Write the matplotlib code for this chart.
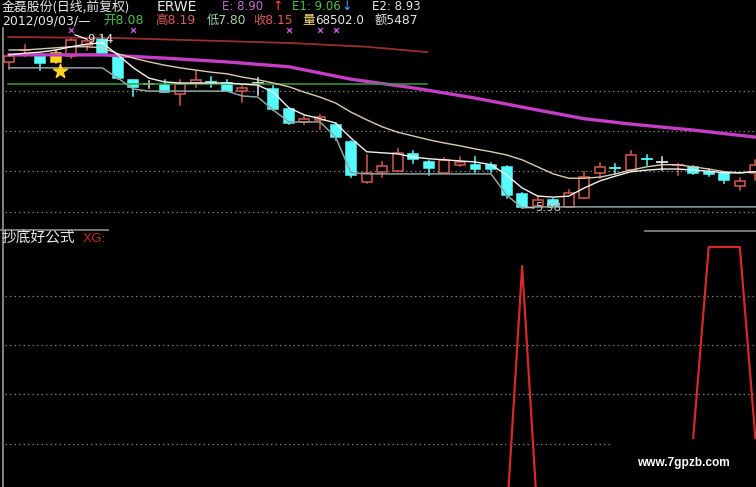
import numpy as np
import matplotlib
matplotlib.use("Agg")
import matplotlib.pyplot as plt
from matplotlib.patches import Rectangle
from matplotlib.lines import Line2D

plt.rcParams['font.family'] = ['Noto Sans CJK SC', 'DejaVu Sans']

W, H = 756, 487

# ---------------- data ----------------
opens  = [8.68, 8.89, 8.79, 8.68, 8.79, 8.99, 9.12, 8.77, 8.35, 8.27,
          8.25, 8.09, 8.29, 8.31, 8.29, 8.14, 8.29, 8.18, 7.81, 7.57,
          7.61, 7.51, 7.20, 6.46, 6.65, 6.66, 6.98, 6.83, 6.63, 6.78,
          6.78, 6.78, 6.74, 6.24, 6.02, 6.13, 6.00, 6.17, 6.63, 6.72,
          6.68, 6.89, 6.83, 6.77, 6.74, 6.65, 6.63, 6.39, 6.63]
highs  = [8.83, 8.99, 8.83, 8.90, 9.12, 9.12, 9.14, 8.79, 8.35, 8.33,
          8.35, 8.35, 8.51, 8.40, 8.35, 8.23, 8.38, 8.23, 7.83, 7.70,
          7.70, 7.55, 7.22, 6.96, 6.83, 7.07, 7.03, 6.85, 6.90, 6.92,
          6.92, 6.81, 6.76, 6.26, 6.20, 6.15, 6.31, 6.65, 6.81, 6.79,
          7.03, 6.96, 6.92, 6.79, 6.76, 6.70, 6.65, 6.53, 6.87]
lows   = [8.55, 8.79, 8.53, 8.66, 8.75, 8.90, 8.81, 8.36, 8.05, 8.20,
          8.12, 7.88, 8.22, 8.22, 8.14, 7.94, 8.07, 7.79, 7.53, 7.53,
          7.44, 7.24, 6.55, 6.44, 6.55, 6.66, 6.81, 6.59, 6.63, 6.76,
          6.65, 6.65, 6.17, 5.98, 6.00, 6.02, 5.99, 6.17, 6.53, 6.61,
          6.68, 6.78, 6.68, 6.59, 6.61, 6.57, 6.44, 6.31, 6.50]
closes = [8.79, 8.90, 8.66, 8.84, 9.08, 9.07, 8.84, 8.38, 8.22, 8.27,
          8.12, 8.27, 8.35, 8.30, 8.14, 8.20, 8.29, 7.81, 7.55, 7.63,
          7.66, 7.29, 6.59, 6.63, 6.76, 7.00, 6.89, 6.72, 6.87, 6.83,
          6.70, 6.70, 6.22, 6.00, 6.13, 6.04, 6.26, 6.55, 6.74, 6.71,
          6.96, 6.88, 6.83, 6.78, 6.63, 6.61, 6.50, 6.48, 6.78]

ma_fast = [8.81, 8.84, 8.86, 8.90, 8.96, 9.01, 9.03, 8.81, 8.57, 8.38,
           8.31, 8.29, 8.29, 8.29, 8.29, 8.27, 8.25, 8.12, 7.83, 7.70,
           7.63, 7.55, 7.27, 7.02, 7.00, 6.98, 6.92, 6.89, 6.87, 6.85,
           6.83, 6.78, 6.59, 6.35, 6.20, 6.18, 6.20, 6.35, 6.48, 6.57,
           6.65, 6.68, 6.70, 6.70, 6.68, 6.66, 6.63, 6.63, 6.65]
ma_slow = [8.90, 8.90, 8.92, 8.94, 8.96, 8.96, 8.94, 8.83, 8.75, 8.68,
           8.62, 8.57, 8.53, 8.49, 8.46, 8.40, 8.35, 8.29, 8.22, 8.12,
           8.03, 7.92, 7.75, 7.61, 7.48, 7.38, 7.31, 7.24, 7.18, 7.13,
           7.07, 7.02, 6.96, 6.87, 6.74, 6.61, 6.53, 6.53, 6.55, 6.61,
           6.68, 6.74, 6.78, 6.78, 6.74, 6.70, 6.65, 6.63, 6.65]
low_step = [8.57, 8.57, 8.57, 8.57, 8.57, 8.57, 8.57, 8.38, 8.18, 8.14,
            8.14, 8.14, 8.14, 8.14, 8.14, 8.05, 8.03, 7.79, 7.57, 7.57,
            7.57, 7.29, 6.63, 6.61, 6.61, 6.61, 6.61, 6.61, 6.61, 6.61,
            6.61, 6.61, 6.22, 5.98, 6.00, 6.00, 6.00, 6.00, 6.00, 6.00,
            6.00, 6.00, 6.00, 6.00, 6.00, 6.00, 6.00, 6.00, 6.00]

e_idx = [0, 3, 6, 10, 14, 18, 22, 26, 30, 34, 37, 40, 44, 48]
e_val = [8.81, 8.81, 8.81, 8.75, 8.68, 8.59, 8.36, 8.20, 8.01, 7.79,
         7.63, 7.53, 7.42, 7.29]
e1_idx = [-0.05, 7, 18, 23, 26.9]
e1_val = [9.14, 9.12, 9.03, 8.96, 8.86]
e2_span = [-0.05, 26.9]
e2_level = 8.27

highlight_days = [3]
star_pos = (3.3, 8.51)
mark_days = [4, 8, 18, 20, 21]
mark_level = 9.27
main_grid = [8.14, 7.40, 6.66, 5.91]

xg = [np.nan] * 32 + [0.0, 0.93, 0.0] + [np.nan] * 9 + [0.30, 1.0, 1.0, 1.0, 0.30]
sub_grid = [0.82, 0.64, 0.46, 0.28]

# ---------------- figure ----------------
fig = plt.figure(figsize=(W / 100, H / 100), dpi=100, facecolor='black')

def fx(x):
    return x / W

def fy(y):
    return 1 - y / H

RED = '#d85a4c'
CYAN = '#55fcfc'
WHITE = '#e8e8e8'
YELLOW = '#ffd21e'

ax = fig.add_axes([0, fy(228), 1, 228 / H])
ax.set_facecolor('black')
ax.set_xlim(-0.58, 48.04)
ax.set_ylim(5.61, 9.824)
ax.axis('off')

for lv in main_grid:
    ax.plot([-0.26, 48.04], [lv, lv], color='#7c7c7c', lw=0.9,
            ls=(0, (1.2, 2.4)), zorder=1)

n = len(opens)
w = 0.64
for i in range(n):
    o, h, l, c = opens[i], highs[i], lows[i], closes[i]
    if i in highlight_days:
        col, filled = YELLOW, True
    elif abs(c - o) < 0.015:
        col = RED if c > o else (CYAN if c < o else WHITE)
        m = (o + c) / 2
        ax.plot([i, i], [l, h], color=col, lw=1.1, zorder=3)
        ax.plot([i - w / 2, i + w / 2], [m, m], color=col, lw=1.3, zorder=3)
        continue
    elif c > o:
        col, filled = RED, False
    else:
        col, filled = CYAN, True
    ax.plot([i, i], [l, h], color=col, lw=1.1, zorder=3)
    ax.add_patch(Rectangle((i - w / 2, min(o, c)), w, abs(c - o),
                           facecolor=col if filled else 'black',
                           edgecolor=col, lw=1.1, zorder=4))

x = np.arange(n)
ax.plot(e_idx, e_val, color='#c53ec5', lw=2.4, zorder=5)
ax.plot(e1_idx, e1_val, color='#9a2e2e', lw=1.3, zorder=5)
ax.plot(e2_span, [e2_level, e2_level], color='#3c9a3c', lw=1.1, zorder=5)
ax.plot(x, low_step, color='#8fa3a3', lw=1.1, zorder=5)
ax.plot(x, ma_slow, color='#d9ccb0', lw=1.0, zorder=6)
ax.plot(x, ma_fast, color='#f2f2f2', lw=1.0, zorder=6)

ax.scatter(mark_days, [mark_level] * len(mark_days), marker='x', s=12,
           color='#c050d0', lw=1.0, zorder=7)
ax.scatter([star_pos[0]], [star_pos[1]], marker='*', s=110, color=YELLOW,
           zorder=7)

# high / low labels
hi_i = int(np.argmax(highs))
lo_i = int(np.argmin(lows))
ax.plot([hi_i - 1.75, hi_i - 1.0], [max(highs) + 0.04, max(highs) - 0.04],
        color=WHITE, lw=1, zorder=8)
ax.text(hi_i - 0.95, max(highs) - 0.04, f"{max(highs):.2f}", color=WHITE,
        fontsize=8.5, va='center', ha='left', family='DejaVu Sans', zorder=9)
ax.plot([lo_i + 0.2, lo_i + 0.75], [min(lows) + 0.02, min(lows)],
        color='#c8c8c8', lw=1, zorder=8)
ax.text(lo_i + 0.85, min(lows), f"{min(lows):.2f}", color='#c8c8c8',
        fontsize=8.5, va='center', ha='left', family='DejaVu Sans', zorder=9)

# ---------------- sub panel ----------------
ax2 = fig.add_axes([0, 0, 1, (H - 230) / H])
ax2.set_facecolor('black')
ax2.set_xlim(-0.58, 48.04)
ax2.set_ylim(0.1209, 1.0623)
ax2.axis('off')
for k, lv in enumerate(sub_grid):
    xe = 38.65 if k == len(sub_grid) - 1 else 48.04
    ax2.plot([-0.26, xe], [lv, lv], color='#7c7c7c', lw=0.9,
             ls=(0, (1.2, 2.4)))
ax2.plot(x, xg, color='#d42a2a', lw=1.6)

# frame lines
fig.add_artist(Line2D([fx(2.5), fx(2.5)], [fy(28), 0], color='#9a9a9a', lw=1.2))
fig.add_artist(Line2D([0, fx(108)], [fy(229.5)] * 2, color='#8c8c8c', lw=1.2))
fig.add_artist(Line2D([fx(645), 1], [fy(230.5)] * 2, color='#8c8c8c', lw=1.2))

# ---------------- texts ----------------
MIX = ['DejaVu Sans', 'Noto Sans CJK SC']

def t(xp, yp, s, color, size=9, family=MIX, **kw):
    fig.text(fx(xp), fy(yp), s, color=color, fontsize=size, va='center',
             ha='left', family=family, **kw)

CJK = ['Noto Sans CJK SC', 'DejaVu Sans']
Y1, Y2 = 7.0, 20.5
t(2, Y1, "金磊股份(日线,前复权)", WHITE, 9.3, family=CJK)
t(157, Y1, "ERWE", WHITE, 10.0, family='DejaVu Sans')
t(222, Y1, "E: 8.90", '#c070c8', 8.5)
t(272, Y1, "↑", '#ff4a4a', 9)
t(292, Y1, "E1: 9.06", '#4ac44a', 8.5)
t(341, Y1, "↓", '#4aa8ff', 9)
t(372, Y1, "E2: 8.93", WHITE, 8.5)

t(2, Y2, "2012/09/03/—", WHITE, 9.0)
t(103, Y2, "开8.08", '#4ac44a', 9.0)
t(155, Y2, "高8.19", '#e05a5a', 9.0)
t(207, Y2, "低7.80", '#a8d4a8', 8.8)
t(253, Y2, "收8.15", '#e05a5a', 8.8)
t(302, Y2, "量", '#ffe07a', 9.0)
t(315, Y2, "68502.0", WHITE, 8.6)
t(375, Y2, "额5487", WHITE, 8.8)

t(2, 238, "抄底好公式", WHITE, 10.6, family=CJK)
t(83, 238, "XG:", '#c02828', 9.5, family='DejaVu Sans')

fig.text(fx(683), fy(463), "www.7gpzb.com", color='white', fontsize=8.6,
         fontweight='bold', ha='center', va='center',
         family='Liberation Sans')

fig.savefig("out.png", dpi=100, facecolor='black')
